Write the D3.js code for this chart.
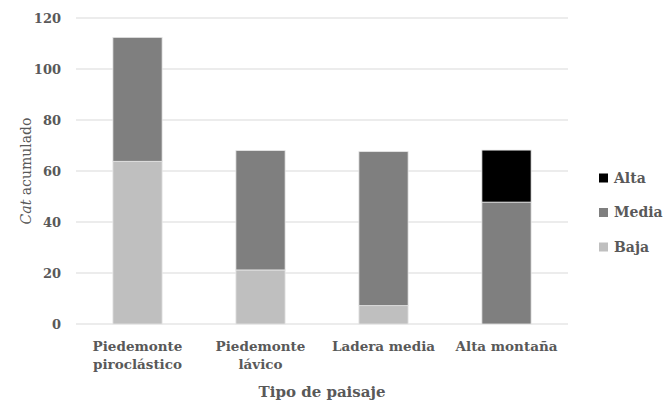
<!DOCTYPE html>
<html>
<head>
<meta charset="utf-8">
<script src="https://cdn.jsdelivr.net/npm/d3@7"></script>
<style>
  body { margin: 0; background: #fff; }
</style>
</head>
<body>
<svg id="chart" width="667" height="412"></svg>
<script>
//Datos
const categories = [["Piedemonte", "piroclástico"], ["Piedemonte", "lávico"], ["Ladera media"], ["Alta montaña"]];
const series = ["Baja", "Media", "Alta"];
const baja = [63.8, 21.2, 7.2, 0];
const media = [48.6, 46.8, 60.4, 47.8];
const alta = [0, 0, 0, 20.4];
const yTicks = [0, 20, 40, 60, 80, 100, 120];
const colors = { Baja: "#bfbfbf", Media: "#7f7f7f", Alta: "#000000" };

const svg = d3.select("#chart")
  .style("font-family", "'DejaVu Serif', serif")
  .attr("font-weight", "bold")
  .attr("fill", "#595959");
const plotL = 76, plotR = 568, plotT = 18, plotB = 324;

const rows = categories.map((c, i) => ({ key: i, label: c, Baja: baja[i], Media: media[i], Alta: alta[i] }));

const x = d3.scaleBand().domain(rows.map(d => d.key)).range([plotL, plotR]).paddingInner(0.6).paddingOuter(0.3);
const y = d3.scaleLinear().domain([0, 120]).range([plotB, plotT]);

//Lineas de cuadricula
svg.append("g")
  .selectAll("line")
  .data(yTicks)
  .join("line")
  .attr("x1", plotL).attr("x2", plotR)
  .attr("y1", d => y(d)).attr("y2", d => y(d))
  .attr("stroke", "#d9d9d9").attr("stroke-width", 1);

//Etiquetas eje y
svg.append("g")
  .selectAll("text")
  .data(yTicks)
  .join("text")
  .attr("x", 61).attr("y", d => y(d))
  .attr("dy", "0.35em")
  .attr("text-anchor", "end")
  .attr("font-size", "13px")
  .text(d => d);

const stack = d3.stack().keys(series)(rows);

svg.append("g")
  .selectAll("g")
  .data(stack)
  .join("g")
  .attr("fill", d => colors[d.key])
  .selectAll("rect")
  .data(d => d.filter(s => s[1] - s[0] > 0))
  .join("rect")
  .attr("x", d => x(d.data.key))
  .attr("width", x.bandwidth())
  .attr("y", d => y(d[1]))
  .attr("height", d => y(d[0]) - y(d[1]))
  .attr("stroke", "#e6e6e6").attr("stroke-width", 0.8);

//Etiquetas de categoria
const catLabels = svg.append("g")
  .selectAll("text")
  .data(rows)
  .join("text")
  .attr("text-anchor", "middle")
  .attr("font-size", "13.5px")
  .attr("y", 346);
catLabels.selectAll("tspan")
  .data(d => d.label.map(l => ({ l, cx: x(d.key) + x.bandwidth() / 2 })))
  .join("tspan")
  .attr("x", d => d.cx)
  .attr("dy", (d, i) => i === 0 ? "0.35em" : "18px")
  .text(d => d.l);

//Titulo eje x
svg.append("text")
  .attr("x", (plotL + plotR) / 2).attr("y", 392)
  .attr("dy", "0.35em")
  .attr("text-anchor", "middle")
  .attr("font-size", "15px")
  .text("Tipo de paisaje");

//Titulo eje y
const yl = svg.append("text")
  .attr("transform", `translate(26, ${(plotT + plotB) / 2}) rotate(-90)`)
  .attr("dy", "0.35em")
  .attr("text-anchor", "middle")
  .attr("font-weight", "normal")
  .attr("font-size", "14px");
yl.append("tspan").attr("font-style", "italic").text("Cat");
yl.append("tspan").text(" acumulado");

//Leyenda
const legend = svg.append("g")
  .selectAll("g")
  .data(series.slice().reverse())
  .join("g")
  .attr("transform", (d, i) => `translate(599, ${178 + i * 34.5})`);
legend.append("rect")
  .attr("x", 0).attr("y", -4.5).attr("width", 9).attr("height", 9)
  .attr("fill", d => colors[d]);
legend.append("text")
  .attr("x", 15).attr("dy", "0.35em")
  .attr("font-size", "14px")
  .text(d => d);
</script>
</body>
</html>
